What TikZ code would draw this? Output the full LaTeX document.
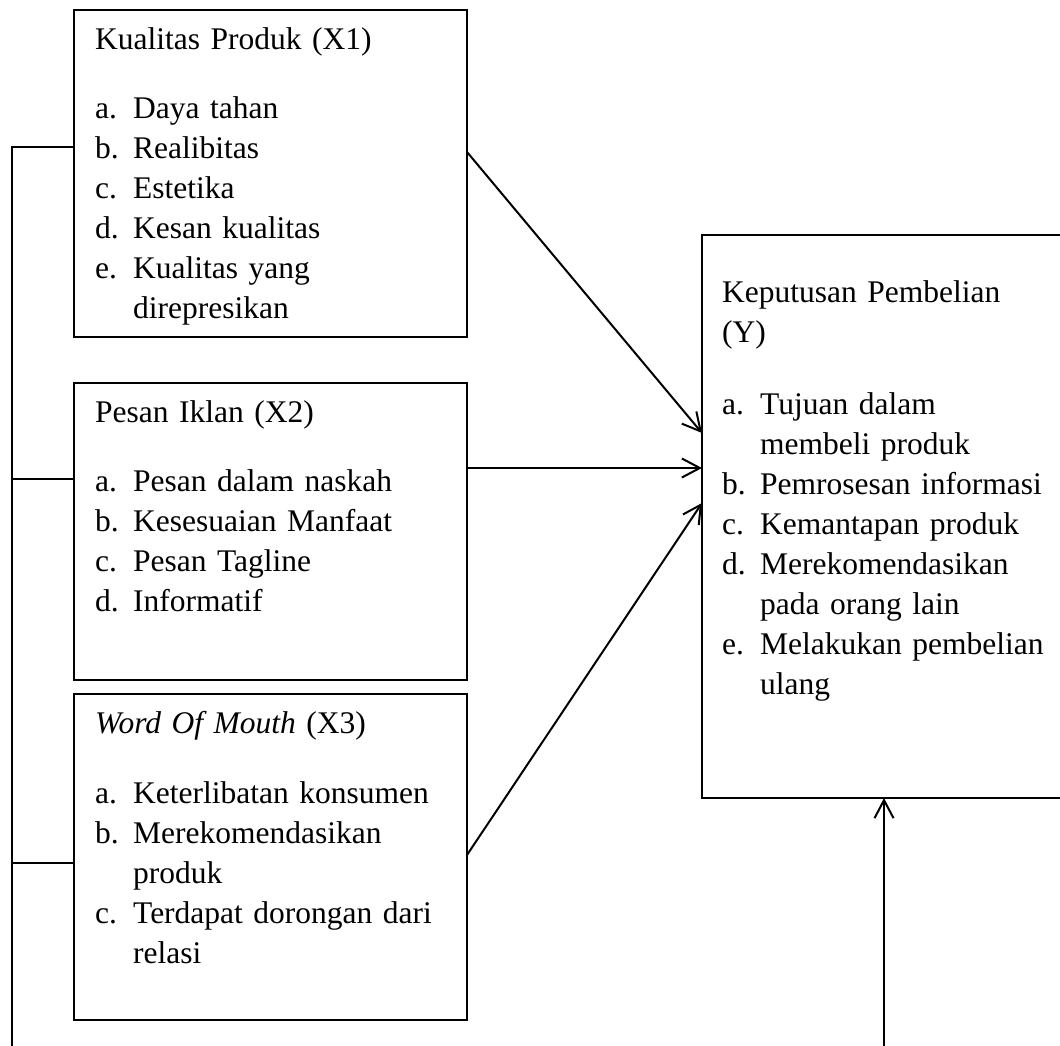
\documentclass[tikz,border=0pt]{standalone}
\usepackage{fontspec}
\setmainfont{Liberation Serif}
\usetikzlibrary{arrows.meta, positioning, calc}
\newcommand{\itemrow}[2]{\makebox[38pt][l]{#1}#2}
\newcommand{\itemcont}[1]{\hspace*{38pt}#1}

\begin{document}
\begin{tikzpicture}[
				x=1pt, y=-1pt,
				varbox/.style={draw, line width=2pt, anchor=north west, inner sep=0pt, outer sep=0pt},
				vartext/.style={anchor=north west, inner sep=0pt, align=left, text width=#1, font=\fontsize{31.5}{40}\selectfont},
				vartext/.default=370pt,
				linkline/.style={line width=2pt},
				arrowstyle/.style={-{Straight Barb[length=18pt, width=19pt]}, line width=2pt}
			]
			\useasboundingbox (0,0) rectangle (1060,1046);
			\fill[white] (0,0) rectangle (1060,1046);
			\coordinate (busbottom) at (12,1075);

			\node[varbox, minimum width=393pt, minimum height=327pt] (x1) at (74,10) {};
			\node[varbox, minimum width=393pt, minimum height=297pt] (x2) at (74,383) {};
			\node[varbox, minimum width=393pt, minimum height=326pt] (x3) at (74,694) {};
			\node[varbox, minimum width=364pt, minimum height=563pt] (y) at (702,235) {};

			\node[vartext] (x1txt) at ([xshift=21pt, yshift=-11pt]x1.north west) {\strut Kualitas Produk (X1)\\[29pt]
				\itemrow{a.}{Daya tahan}\\
				\itemrow{b.}{Realibitas}\\
				\itemrow{c.}{Estetika}\\
				\itemrow{d.}{Kesan kualitas}\\
				\itemrow{e.}{Kualitas yang}\\
				\itemcont{direpresikan}};
			\node[vartext] (x2txt) at ([xshift=21pt, yshift=-11pt]x2.north west) {\strut Pesan Iklan (X2)\\[29pt]
				\itemrow{a.}{Pesan dalam naskah}\\
				\itemrow{b.}{Kesesuaian Manfaat}\\
				\itemrow{c.}{Pesan Tagline}\\
				\itemrow{d.}{Informatif}};
			\node[vartext] (x3txt) at ([xshift=21pt, yshift=-11pt]x3.north west) {\strut \textit{Word Of Mouth} (X3)\\[30pt]
				\itemrow{a.}{Keterlibatan konsumen}\\
				\itemrow{b.}{Merekomendasikan}\\
				\itemcont{produk}\\
				\itemrow{c.}{Terdapat dorongan dari}\\
				\itemcont{relasi}};
			\node[vartext=340pt] (ytxt) at ([xshift=20pt, yshift=-39pt]y.north west) {\strut Keputusan Pembelian\\
				(Y)\\[32pt]
				\itemrow{a.}{Tujuan dalam}\\
				\itemcont{membeli produk}\\
				\itemrow{b.}{Pemrosesan informasi}\\
				\itemrow{c.}{Kemantapan produk}\\
				\itemrow{d.}{Merekomendasikan}\\
				\itemcont{pada orang lain}\\
				\itemrow{e.}{Melakukan pembelian}\\
				\itemcont{ulang}};

			\draw[arrowstyle] ([yshift=21.5pt]x1.east) -- ([yshift=83.5pt]y.west);
			\draw[arrowstyle] ([yshift=63.5pt]x2.east) -- ([yshift=48.5pt]y.west);
			\draw[arrowstyle] ([yshift=2pt]x3.east) -- ([yshift=13.5pt]y.west);

			\draw[linkline] ([yshift=52.5pt]x2.west) -| (busbottom);
			\draw[linkline] ([yshift=-6pt]x3.west) -| (busbottom);
			\draw[arrowstyle] ([yshift=26.5pt]x1.west) -| (busbottom) -| (y.south);
		\end{tikzpicture}
\end{document}
